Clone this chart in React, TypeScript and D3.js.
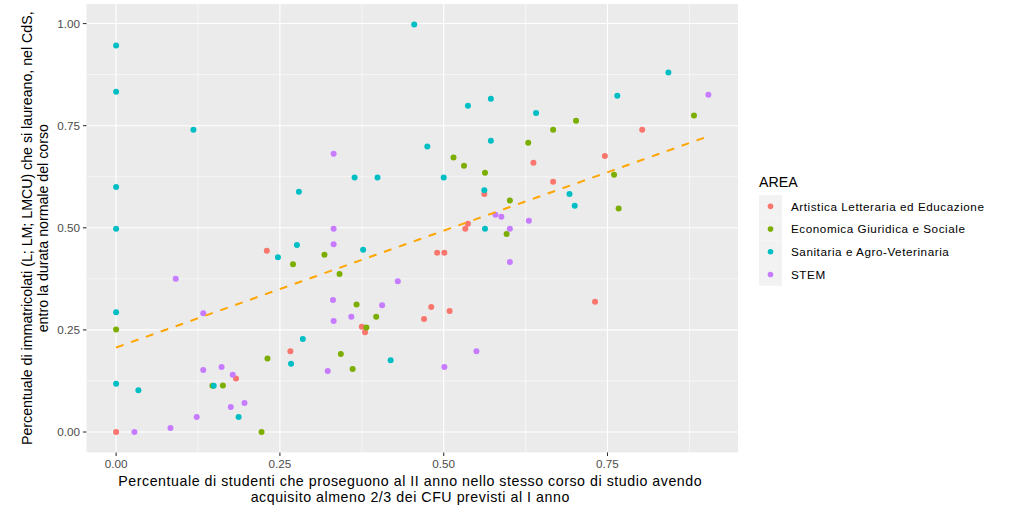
import React from "react";
import * as d3 from "d3";

const AREAS = [
  "Artistica Letteraria ed Educazione",
  "Economica Giuridica e Sociale",
  "Sanitaria e Agro-Veterinaria",
  "STEM",
];
const COLORS = ["#F8766D", "#7CAE00", "#00BFC4", "#C77CFF"];

const artistica: [number, number][] = [
  [0, 0], [0.23, 0.444], [0.266, 0.198], [0.183, 0.131], [0.637, 0.659],
  [0.562, 0.583], [0.537, 0.51], [0.533, 0.4975], [0.49, 0.439], [0.501, 0.439],
  [0.481, 0.306], [0.509, 0.296], [0.47, 0.277], [0.375, 0.258], [0.38, 0.244],
  [0.803, 0.74], [0.746, 0.676], [0.667, 0.613], [0.731, 0.319],
];
const economica: [number, number][] = [
  [0, 0.251], [0.27, 0.411], [0.147, 0.113], [0.163, 0.114], [0.222, 0],
  [0.231, 0.18], [0.629, 0.708], [0.515, 0.672], [0.531, 0.652], [0.563, 0.635],
  [0.601, 0.567], [0.596, 0.485], [0.318, 0.434], [0.341, 0.387], [0.367, 0.312],
  [0.397, 0.282], [0.382, 0.256], [0.343, 0.191], [0.361, 0.154], [0.702, 0.762],
  [0.667, 0.74], [0.882, 0.775], [0.76, 0.63], [0.767, 0.547],
];
const sanitaria: [number, number][] = [
  [0, 0.946], [0, 0.833], [0.118, 0.74], [0, 0.6], [0, 0.4975], [0, 0.293],
  [0.279, 0.588], [0.276, 0.458], [0.247, 0.428], [0.285, 0.228], [0, 0.118],
  [0.034, 0.102], [0.149, 0.113], [0.187, 0.037], [0.267, 0.167], [0.455, 0.998],
  [0.572, 0.816], [0.537, 0.799], [0.641, 0.781], [0.572, 0.713], [0.475, 0.699],
  [0.364, 0.623], [0.399, 0.623], [0.5, 0.623], [0.562, 0.592], [0.563, 0.4975],
  [0.377, 0.446], [0.419, 0.176], [0.843, 0.88], [0.765, 0.823], [0.692, 0.583],
  [0.7, 0.554],
];
const stem: [number, number][] = [
  [0.091, 0.375], [0.133, 0.291], [0.028, 0], [0.083, 0.01], [0.123, 0.037],
  [0.133, 0.152], [0.161, 0.159], [0.178, 0.14], [0.175, 0.061], [0.196, 0.071],
  [0.332, 0.681], [0.579, 0.532], [0.588, 0.527], [0.63, 0.517], [0.601, 0.4975],
  [0.332, 0.4975], [0.332, 0.46], [0.601, 0.416], [0.43, 0.369], [0.331, 0.3235],
  [0.406, 0.3105], [0.359, 0.282], [0.332, 0.272], [0.55, 0.198], [0.323, 0.1495],
  [0.501, 0.159], [0.904, 0.826],
];
const SERIES = [artistica, economica, sanitaria, stem];

// fitted regression line (intercept, slope)
const REG_INTERCEPT = 0.207;
const REG_SLOPE = 0.572;

const X_TICKS = [0, 0.25, 0.5, 0.75];
const X_MINOR = [0.125, 0.375, 0.625, 0.875];
const Y_TICKS = [0, 0.25, 0.5, 0.75, 1];
const Y_MINOR = [0.125, 0.375, 0.625, 0.875];

const X_TITLE = [
  "Percentuale di studenti che proseguono al II anno nello stesso corso di studio avendo",
  "acquisito almeno 2/3 dei CFU previsti al I anno",
];
const Y_TITLE = [
  "Percentuale di immatricolati (L; LM; LMCU) che si laureano, nel CdS,",
  "entro la durata normale del corso",
];
const LEGEND_TITLE = "AREA";

const W = 1009;
const H = 512;
const PL = 86.5, PR = 738, PT = 4, PB = 452.4;
const FONT = "'Liberation Sans', Arial, Helvetica, sans-serif";
const HSPACE = 0.55;

export default function App() {
  const all = SERIES.flat();
  const xExt = d3.extent(all, (d) => d[0]) as [number, number];
  const yExt = d3.extent(all, (d) => d[1]) as [number, number];
  const xPad = (xExt[1] - xExt[0]) * 0.05;
  const yPad = (yExt[1] - yExt[0]) * 0.05;
  const x = d3.scaleLinear().domain([xExt[0] - xPad, xExt[1] + xPad]).range([PL, PR]);
  const y = d3.scaleLinear().domain([yExt[0] - yPad, yExt[1] + yPad]).range([PB, PT]);

  const fitX = d3.range(0, 81).map((i) => xExt[0] + ((xExt[1] - xExt[0]) * i) / 80);
  const line = d3
    .line<number>()
    .x((v) => x(v))
    .y((v) => y(REG_INTERCEPT + REG_SLOPE * v));

  const fmt = d3.format(".2f");
  const cx = (PL + PR) / 2;
  const cy = (PT + PB) / 2;

  const legX = 759, legY = 195, keyH = 22.7, keyW = 23;

  return (
    <svg
      width={W}
      height={H}
      style={{ position: "absolute", left: 0, top: 0, background: "#fff" }}
      fontFamily={FONT}
    >
      <rect x={0} y={0} width={W} height={H} fill="#fff" />
      <rect x={PL} y={PT} width={PR - PL} height={PB - PT} fill="#EBEBEB" />
      {X_MINOR.map((v) => (
        <line key={"xm" + v} x1={x(v)} x2={x(v)} y1={PT} y2={PB} stroke="#fff" strokeWidth={0.55} />
      ))}
      {Y_MINOR.map((v) => (
        <line key={"ym" + v} x1={PL} x2={PR} y1={y(v)} y2={y(v)} stroke="#fff" strokeWidth={0.55} />
      ))}
      {X_TICKS.map((v) => (
        <line key={"xg" + v} x1={x(v)} x2={x(v)} y1={PT} y2={PB} stroke="#fff" strokeWidth={1.1} />
      ))}
      {Y_TICKS.map((v) => (
        <line key={"yg" + v} x1={PL} x2={PR} y1={y(v)} y2={y(v)} stroke="#fff" strokeWidth={1.1} />
      ))}

      {SERIES.map((s, i) =>
        s.map((d, j) => (
          <circle key={i + "-" + j} cx={x(d[0])} cy={y(d[1])} r={3} fill={COLORS[i]} />
        ))
      )}

      <path
        d={line(fitX) || ""}
        fill="none"
        stroke="#FFA500"
        strokeWidth={2}
        strokeDasharray="7.9 7.9"
      />

      {X_TICKS.map((v) => (
        <g key={"xt" + v}>
          <line x1={x(v)} x2={x(v)} y1={PB} y2={PB + 3.6} stroke="#333" strokeWidth={1.07} />
          <text x={x(v)} y={PB + 15.5} textAnchor="middle" fontSize={11.7} fill="#4D4D4D">
            {fmt(v)}
          </text>
        </g>
      ))}
      {Y_TICKS.map((v) => (
        <g key={"yt" + v}>
          <line x1={PL - 3.6} x2={PL} y1={y(v)} y2={y(v)} stroke="#333" strokeWidth={1.07} />
          <text x={PL - 6.5} y={y(v) + 4.1} textAnchor="end" fontSize={11.7} fill="#4D4D4D">
            {fmt(v)}
          </text>
        </g>
      ))}

      {X_TITLE.map((t, i) => (
        <text
          key={"xtt" + i}
          x={cx - 2}
          y={486 + i * 16}
          textAnchor="middle"
          fontSize={14.2}
          letterSpacing={HSPACE}
          fill="#000"
        >
          {t}
        </text>
      ))}
      {Y_TITLE.map((t, i) => (
        <text
          key={"ytt" + i}
          transform={`translate(${32 + i * 16},${cy}) rotate(-90)`}
          textAnchor="middle"
          fontSize={14.2}
          fill="#000"
        >
          {t}
        </text>
      ))}

      <text x={legX} y={187} fontSize={14.2} fill="#000">
        {LEGEND_TITLE}
      </text>
      {AREAS.map((a, i) => (
        <g key={a}>
          <rect x={legX} y={legY + i * keyH} width={keyW} height={keyH} fill="#F2F2F2" />
          <circle cx={legX + keyW / 2} cy={legY + i * keyH + keyH / 2} r={2.8} fill={COLORS[i]} />
          <text
            x={791}
            y={legY + i * keyH + keyH / 2 + 4.2}
            fontSize={11.7}
            letterSpacing={HSPACE}
            fill="#000"
          >
            {a}
          </text>
        </g>
      ))}
    </svg>
  );
}
